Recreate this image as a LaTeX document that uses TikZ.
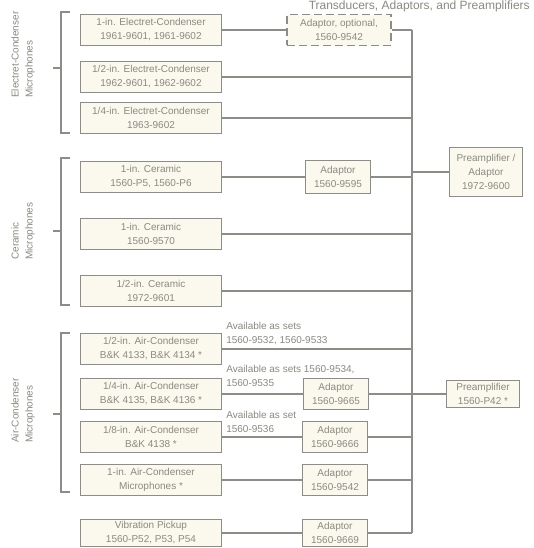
\documentclass[tikz,border=0pt]{standalone}
\usepackage{fontspec}
\setmainfont{Liberation Sans}
\usetikzlibrary{positioning,calc}
\definecolor{inkgray}{HTML}{8A8A82}
\definecolor{linegray}{HTML}{8C8C88}
\definecolor{paper}{HTML}{FBF9EE}

\begin{document}
\begin{tikzpicture}[x=0.75pt,y=-0.75pt,
  every node/.style={font=\fontsize{7.5}{10.5}\selectfont,text=inkgray},
  mic/.style={draw=linegray,thick,fill=paper,align=center,minimum width=106pt,minimum height=23pt,inner sep=1pt},
  adp/.style={draw=linegray,thick,fill=paper,align=center,minimum width=49pt,minimum height=23pt,inner sep=1pt},
  pre/.style={draw=linegray,thick,fill=paper,align=center,minimum width=55pt,inner sep=1.5pt},
  note/.style={anchor=west,align=left,inner sep=0pt},
  group/.style={rotate=90,anchor=north west,align=left,inner sep=0pt},
  wire/.style={draw=linegray,thick}]
\clip (0,0) rectangle (533,548);
\fill[white] (0,0) rectangle (533,548);
% heading
\node[anchor=base east,font=\fontsize{9}{11}\selectfont,inner sep=0pt] (head) at (530,9.5) {Transducers, Adaptors, and Preamplifiers};
% group labels and brackets
\node[group] (gelec) at (11,98) {Electret-Condenser\\Microphones};
\node[group] (gcer) at (11,260) {Ceramic\\Microphones};
\node[group] (gair) at (11,443) {Air-Condenser\\Microphones};
\draw[wire] (70,12) -- (61,12) -- (61,133) -- (70,133) (61,68) -- (53,68);
\draw[wire] (70,158) -- (61,158) -- (61,305) -- (70,305) (61,231) -- (53,231);
\draw[wire] (70,333) -- (61,333) -- (61,492) -- (70,492) (61,414) -- (53,414);
% microphones and pickup
\node[mic] (e1) at (151,30) {1-in. Electret-Condenser\\1961-9601, 1961-9602};
\node[mic] (e2) at (151,77) {1/2-in. Electret-Condenser\\1962-9601, 1962-9602};
\node[mic] (e3) at (151,118) {1/4-in. Electret-Condenser\\1963-9602};
\node[mic] (c1) at (151,177) {1-in. Ceramic\\1560-P5, 1560-P6};
\node[mic] (c2) at (151,234) {1-in. Ceramic\\1560-9570};
\node[mic] (c3) at (151,291) {1/2-in. Ceramic\\1972-9601};
\node[mic] (a1) at (151,349) {1/2-in. Air-Condenser\\B\&K 4133, B\&K 4134 *};
\node[mic] (a2) at (151,394) {1/4-in. Air-Condenser\\B\&K 4135, B\&K 4136 *};
\node[mic] (a3) at (151,437) {1/8-in. Air-Condenser\\B\&K 4138 *};
\node[mic] (a4) at (151,480) {1-in. Air-Condenser\\Microphones *};
\node[mic,minimum height=20pt] (vib) at (151,533) {Vibration Pickup\\1560-P52, P53, P54};
% adaptors
\node[adp,dash pattern=on 6pt off 3pt,minimum width=78pt] (optad) at (339,30) {Adaptor, optional,\\1560-9542};
\node[adp,minimum height=25pt] (cerad) at (338,177) {Adaptor\\1560-9595};
\node[adp] (ad2) at (336,394) {Adaptor\\1560-9665};
\node[adp] (ad3) at (335,437) {Adaptor\\1560-9666};
\node[adp] (ad4) at (335,480) {Adaptor\\1560-9542};
\node[adp,minimum height=20pt] (advib) at (335,533) {Adaptor\\1560-9669};
% preamplifiers
\node[pre,minimum height=37pt] (preadp) at (486,172) {Preamplifier /\\Adaptor\\1972-9600};
\node[pre,minimum height=20pt] (prep) at (483,394) {Preamplifier\\1560-P42 *};
% notes on the air-condenser lines
\node[note] (set1) at (226,334) {Available as sets\\1560-9532, 1560-9533};
\node[note] (set2) at (226,376) {Available as sets 1560-9534,\\1560-9535};
\node[note] (set3) at (226,422) {Available as set\\1560-9536};
% common bus
\coordinate (bustop) at (412,30);
\coordinate (busbot) at (412,533);
\draw[wire] (bustop) -- (busbot);
\draw[wire] (e1) -- (optad);
\draw[wire] (optad.east) -- (bustop);
\draw[wire] (e2.east) -- (e2.east -| bustop);
\draw[wire] (e3.east) -- (e3.east -| bustop);
\draw[wire] (c1) -- (cerad);
\draw[wire] (cerad.east) -- (cerad.east -| bustop);
\draw[wire] (c2.east) -- (c2.east -| bustop);
\draw[wire] (c3.east) -- (c3.east -| bustop);
\draw[wire] (preadp.west -| bustop) -- (preadp.west);
\draw[wire] (a1.east) -- (a1.east -| bustop);
\draw[wire] (a2) -- (ad2);
\draw[wire] (ad2) -- (prep);
\draw[wire] (a3) -- (ad3);
\draw[wire] (ad3.east) -- (ad3.east -| bustop);
\draw[wire] (a4) -- (ad4);
\draw[wire] (ad4.east) -- (ad4.east -| bustop);
\draw[wire] (vib) -- (advib);
\draw[wire] (advib.east) -- (busbot);
\end{tikzpicture}
\end{document}
